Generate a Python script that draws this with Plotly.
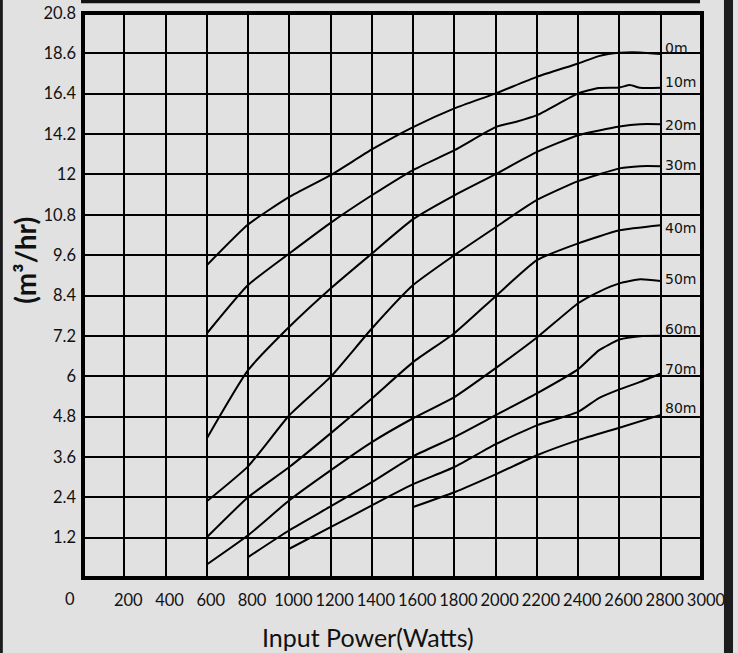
import numpy as np
import plotly.graph_objects as go

# ---------------- data ----------------
power_ticks = [200, 400, 600, 800, 1000, 1200, 1400, 1600, 1800, 2000,
               2200, 2400, 2600, 2800, 3000]
flow_ticks = [1.2, 2.4, 3.6, 4.8, 6, 7.2, 8.4, 9.6, 10.8, 12, 14.2, 16.4, 18.6, 20.8]
flow_tick_text = ["1.2", "2.4", "3.6", "4.8", "6", "7.2", "8.4", "9.6", "10.8",
                  "12", "14.2", "16.4", "18.6", "20.8"]

head_labels = ["0m", "10m", "20m", "30m", "40m", "50m", "60m", "70m", "80m"]

watts_0m = [600, 800, 1000, 1200, 1400, 1600, 1800, 2000, 2200, 2400, 2500, 2600, 2700, 2800]
flow_0m = [9.30, 10.51, 11.33, 11.98, 13.36, 14.58, 15.60, 16.42, 17.32, 18.05, 18.45, 18.63, 18.65, 18.56]

watts_10m = [600, 800, 1000, 1200, 1400, 1600, 1800, 2000, 2100, 2200, 2400, 2500, 2600, 2650, 2700, 2800]
flow_10m = [7.27, 8.71, 9.65, 10.56, 11.38, 12.24, 13.32, 14.58, 14.87, 15.23, 16.42, 16.71, 16.74, 16.87, 16.72, 16.72]

watts_20m = [600, 800, 1000, 1200, 1400, 1600, 1800, 2000, 2200, 2400, 2600, 2700, 2800]
flow_20m = [4.15, 6.18, 7.47, 8.61, 9.65, 10.67, 11.38, 12.02, 13.23, 14.14, 14.61, 14.74, 14.74]

watts_30m = [600, 800, 1000, 1200, 1400, 1600, 1800, 2000, 2200, 2400, 2600, 2700, 2800]
flow_30m = [2.28, 3.32, 4.84, 5.98, 7.42, 8.71, 9.60, 10.43, 11.24, 11.80, 12.33, 12.45, 12.45]

watts_40m = [600, 800, 1000, 1200, 1400, 1600, 1800, 2000, 2200, 2400, 2600, 2800]
flow_40m = [1.21, 2.40, 3.30, 4.30, 5.34, 6.42, 7.28, 8.38, 9.45, 9.95, 10.34, 10.49]

watts_50m = [600, 800, 1000, 1200, 1400, 1600, 1800, 2000, 2200, 2400, 2500, 2600, 2700, 2800]
flow_50m = [0.40, 1.27, 2.31, 3.20, 4.04, 4.75, 5.38, 6.24, 7.15, 8.17, 8.51, 8.76, 8.88, 8.83]

watts_60m = [800, 1000, 1200, 1400, 1600, 1800, 2000, 2200, 2400, 2500, 2600, 2700, 2800]
flow_60m = [0.62, 1.42, 2.13, 2.85, 3.62, 4.19, 4.84, 5.49, 6.21, 6.77, 7.09, 7.19, 7.20]

watts_70m = [1000, 1200, 1400, 1600, 1800, 2000, 2200, 2400, 2500, 2600, 2700, 2800]
flow_70m = [0.87, 1.51, 2.16, 2.79, 3.30, 3.98, 4.54, 4.94, 5.35, 5.61, 5.83, 6.08]

watts_80m = [1600, 1800, 2000, 2200, 2400, 2600, 2800]
flow_80m = [2.11, 2.55, 3.08, 3.65, 4.10, 4.47, 4.85]

series = [
    (watts_0m, flow_0m), (watts_10m, flow_10m), (watts_20m, flow_20m),
    (watts_30m, flow_30m), (watts_40m, flow_40m), (watts_50m, flow_50m),
    (watts_60m, flow_60m), (watts_70m, flow_70m), (watts_80m, flow_80m),
]

# label vertical nudges (pixels) relative to each curve's end
label_yshift = [6, 6, -1, 1, -3, 2, 7, 5, 7]

# ---------------- scale ----------------
# The chart's flow axis has equally spaced gridlines with uneven values.
scale_vals = [0] + flow_ticks
scale_pos = list(range(len(scale_vals)))


def flow_to_axis(q):
    return np.interp(q, scale_vals, scale_pos)


BG = "#e1e1e1"
FONT = "Lato"

fig = go.Figure()
for (w, q), name in zip(series, head_labels):
    fig.add_trace(go.Scatter(
        x=w, y=flow_to_axis(q), mode="lines", name=name,
        line=dict(color="black", width=2, shape="spline", smoothing=0.5),
        hoverinfo="skip", showlegend=False,
    ))

annotations = []
for (w, q), name, ys in zip(series, head_labels, label_yshift):
    annotations.append(dict(
        x=w[-1], y=float(flow_to_axis(q[-1])), xref="x", yref="y",
        text=name, showarrow=False, xanchor="left", yanchor="middle",
        xshift=2, yshift=ys,
        font=dict(family="DejaVu Sans", size=14, color="#111111"),
    ))

# "0" at the origin corner
annotations.append(dict(
    x=-0.021, y=0, xref="paper", yref="paper", text="0", showarrow=False,
    xanchor="center", yanchor="middle", yshift=-21,
    font=dict(family=FONT, size=16.5, color="#111111"),
))
# y-axis title
annotations.append(dict(
    x=-0.094, y=0.563, xref="paper", yref="paper", text="<b>(m³/hr)</b>",
    showarrow=False, textangle=-90, xanchor="center", yanchor="middle",
    font=dict(family=FONT, size=28, color="#111111"),
))
# x-axis title
annotations.append(dict(
    x=0.461, y=-0.105, xref="paper", yref="paper", text="Input Power(Watts)",
    showarrow=False, xanchor="center", yanchor="middle",
    font=dict(family=FONT, size=25, color="#111111"),
))

shapes = [
    # plot frame
    dict(type="rect", xref="x domain", yref="y domain", x0=0, x1=1, y0=0, y1=1,
         line=dict(color="black", width=4), layer="above"),
    # outer page edges of the scanned figure
    dict(type="rect", xref="paper", yref="paper", x0=-0.1341, x1=-0.1295,
         y0=-0.14, y1=1.03, line=dict(width=0), fillcolor="#1c1c1c"),
    dict(type="rect", xref="paper", yref="paper", x0=-0.0032, x1=0.9968,
         y0=1.0172, y1=1.03, line=dict(width=0), fillcolor="#111111"),
    dict(type="rect", xref="paper", yref="paper", x0=1.0355, x1=1.0501,
         y0=-0.14, y1=1.03, line=dict(width=0), fillcolor="#1c1c1c"),
]

fig.update_layout(
    width=738, height=653,
    margin=dict(l=83, r=36, t=13, b=75, autoexpand=False),
    paper_bgcolor=BG, plot_bgcolor=BG,
    font=dict(family=FONT, size=16.5, color="#111111"),
    annotations=annotations, shapes=shapes,
    showlegend=False,
)
fig.update_xaxes(
    range=[0, 3000], tickvals=power_ticks, ticktext=[str(v) for v in power_ticks],
    showgrid=True, gridcolor="black", gridwidth=2, zeroline=False,
    showline=False, ticks="", ticklabelstandoff=10, ticklabelshift=4,
    automargin=False,
    tickfont=dict(family=FONT, size=16.5, color="#111111"),
)
fig.update_yaxes(
    range=[0, 14], tickvals=list(range(1, 15)), ticktext=flow_tick_text,
    showgrid=True, gridcolor="black", gridwidth=2, zeroline=False,
    showline=False, ticks="", ticklabelstandoff=6, automargin=False,
    tickfont=dict(family=FONT, size=16.5, color="#111111"),
)

fig.write_html(
    "out.html",
    config={"displayModeBar": False},
    post_script="document.body.style.margin='0';document.body.style.background='%s';" % BG,
)
